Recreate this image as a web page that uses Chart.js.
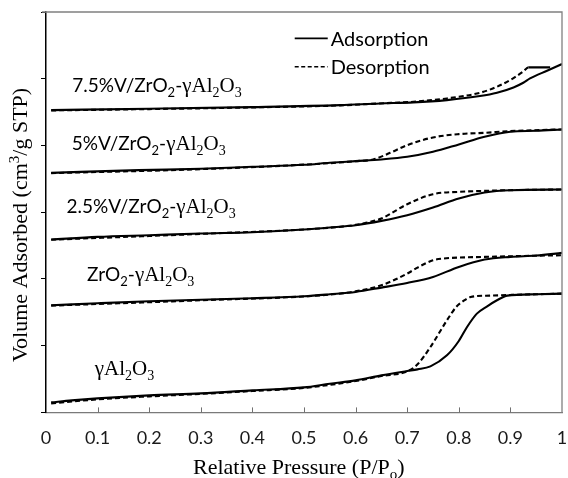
<!DOCTYPE html>
<html><head><meta charset="utf-8">
<script src="https://cdn.jsdelivr.net/npm/chart.js@4"></script>
<style>html,body{margin:0;padding:0;background:#fff}#wrap{width:568px;height:478px;position:relative}</style>
</head><body><div id="wrap"><canvas id="c"></canvas></div>
<script>
// ---- data (relative pressure P/Po, volume adsorbed, curves offset vertically as in the figure) ----
const X_TICKS = [0,0.1,0.2,0.3,0.4,0.5,0.6,0.7,0.8,0.9,1];

const P_AL_ADS = [0.01,0.05,0.1,0.2,0.3,0.4,0.5,0.55,0.6,0.65,0.7,0.72,0.745,0.777,0.8,0.816,0.835,0.855,0.874,0.894,0.95,1.0];
const V_AL_ADS = [15,18,21,25.5,28.5,33,37.5,43,48,55.5,62,64.5,69,85.5,107,128,148,159,168,175,177,178];
const P_AL_DES = [0.01,0.1,0.2,0.3,0.4,0.5,0.6,0.65,0.7,0.72,0.745,0.777,0.795,0.809,0.823,0.86,0.9,1.0];
const V_AL_DES = [13.5,19.5,24,27.75,32,36.75,47,54.5,61.5,72,98,138,158,167,173,175,176,178];

const P_ZR_ADS = [0.01,0.1,0.2,0.3,0.4,0.5,0.55,0.6,0.65,0.7,0.75,0.8,0.85,0.9,0.95,1.0];
const V_ZR_ADS = [160.5,163.5,166.5,168.75,171,174,177,180.5,187,194,203,218,229,233,235,239];
const P_ZR_DES = [0.01,0.3,0.55,0.6,0.65,0.7,0.72,0.75,0.77,0.8,0.85,0.9,1.0];
const V_ZR_DES = [160,168,176.5,181.5,190.5,208,217,228,230.5,232,233,234,235.5];

const P_V25_ADS = [0.01,0.1,0.2,0.3,0.4,0.5,0.55,0.6,0.65,0.7,0.75,0.8,0.85,0.9,1.0];
const V_V25_ADS = [259,263,265.5,268,270,274,277,280.5,287,295.5,307,320.5,329.5,333,334];
const P_V25_DES = [0.01,0.3,0.55,0.6,0.62,0.65,0.7,0.75,0.8,0.85,0.9,1.0];
const V_V25_DES = [258.75,267.5,276.75,281,284,290.5,312,327,330.5,332,333,334];

const P_V5_ADS = [0.01,0.18,0.3,0.4,0.5,0.55,0.6,0.65,0.7,0.75,0.8,0.85,0.9,0.95,1.0];
const V_V5_ADS = [359,363,365,368,371,374,376.5,379,383,390.5,401.5,413,420.5,422,424];
const P_V5_DES = [0.01,0.3,0.55,0.6,0.634,0.667,0.7,0.75,0.8,0.85,0.9,1.0];
const V_V5_DES = [358.5,364.5,373.5,376.5,379,389,400.5,412,417,419,421.5,424];

const P_V75_ADS = [0.01,0.2,0.4,0.57,0.647,0.712,0.777,0.841,0.874,0.906,0.925,0.938,0.971,1.0];
const V_V75_ADS = [453,455,457.5,460.5,463,464.5,468,474,479,487,494,500.5,512,522];
const P_V75_DES = [0.01,0.2,0.4,0.57,0.647,0.712,0.777,0.841,0.874,0.906,0.925,0.935,0.977];
const V_V75_DES = [452.5,454.5,457,460,463,465.5,470.5,479,488,501,511,517,517];

const SERIES_NAMES = ['Adsorption','Desorption'];

// sample labels: text runs (sans / serif / subscript)
const SAMPLE_LABELS = [
  {runs:[['7.5%V/ZrO','s'],['2','ss'],['-','s'],['γAl','r'],['2','rs'],['O','r'],['3','rs']], at:[0.051,480]},
  {runs:[['5%V/ZrO','s'],['2','ss'],['-','s'],['γAl','r'],['2','rs'],['O','r'],['3','rs']], at:[0.050,393]},
  {runs:[['2.5%V/ZrO','s'],['2','ss'],['-','s'],['γAl','r'],['2','rs'],['O','r'],['3','rs']], at:[0.0395,298.5]},
  {runs:[['ZrO','s'],['2','ss'],['-','s'],['γAl','r'],['2','rs'],['O','r'],['3','rs']], at:[0.0795,196.5]},
  {runs:[['γAl','r'],['2','rs'],['O','r'],['3','rs']], at:[0.0945,55.5]}
];

const SANS = 'Lato, "Open Sans", sans-serif';
const SERIF = '"Liberation Serif", "DejaVu Serif", serif';
const RUN_STYLE = {
  s:{font:'19px '+SANS, dy:0},
  ss:{font:'13px '+SANS, dy:5},
  r:{font:'21px '+SERIF, dy:0},
  rs:{font:'14px '+SERIF, dy:5},
  r2:{font:'22px '+SERIF, dy:0},
  r2s:{font:'15px '+SERIF, dy:5},
  ry:{font:'22px '+SERIF, dy:0},
  rys:{font:'15px '+SERIF, dy:-8}
};

function pts(xs, ys){ return xs.map((v,i)=>({x:v, y:ys[i]})); }

const curves = [
  [P_AL_ADS,V_AL_ADS,false],[P_AL_DES,V_AL_DES,true],
  [P_ZR_ADS,V_ZR_ADS,false],[P_ZR_DES,V_ZR_DES,true],
  [P_V25_ADS,V_V25_ADS,false],[P_V25_DES,V_V25_DES,true],
  [P_V5_ADS,V_V5_ADS,false],[P_V5_DES,V_V5_DES,true],
  [P_V75_ADS,V_V75_ADS,false],[P_V75_DES,V_V75_DES,true]
];

const datasets = curves.map((c,i)=>({
  label: c[2] ? SERIES_NAMES[1] : SERIES_NAMES[0],
  data: pts(c[0], c[1]),
  borderColor:'#000',
  borderWidth:2.1,
  borderDash: c[2] ? [5,3] : [],
  pointRadius:0,
  fill:false,
  cubicInterpolationMode:'monotone',
  segment: (i===9) ? {borderDash: ctx => ctx.p0.parsed.x >= 0.934 ? [] : undefined} : undefined
}));

function drawRuns(ctx, runs, x, y){
  let cx = x;
  for (const [t, k] of runs){
    const st = RUN_STYLE[k];
    ctx.font = st.font;
    ctx.fillText(t, cx, y + st.dy);
    cx += ctx.measureText(t).width;
  }
}

const overlay = {
  id:'overlay',
  afterDraw(chart){
    const {ctx, chartArea:a, scales:{x, y}} = chart;
    ctx.save();
    // frame top/right
    ctx.strokeStyle = '#808080'; ctx.lineWidth = 1.3;
    ctx.beginPath();
    ctx.moveTo(a.left - 4, a.top); ctx.lineTo(a.right, a.top); ctx.lineTo(a.right, a.bottom);
    ctx.stroke();
    // inward x tick marks
    ctx.strokeStyle = '#707070'; ctx.lineWidth = 1;
    ctx.beginPath();
    for (const t of x.ticks){
      if (t.value <= 0 || t.value >= 1) continue;
      const px = Math.round(x.getPixelForValue(t.value)) + 0.5;
      ctx.moveTo(px, a.bottom); ctx.lineTo(px, a.bottom - 5);
    }
    ctx.stroke();
    // sample labels
    ctx.fillStyle = '#000'; ctx.textBaseline = 'alphabetic'; ctx.textAlign = 'left';
    for (const L of SAMPLE_LABELS){
      drawRuns(ctx, L.runs, x.getPixelForValue(L.at[0]), y.getPixelForValue(L.at[1]));
    }
    // legend
    const lx0 = x.getPixelForValue(0.482), lx1 = x.getPixelForValue(0.546);
    const ly = [y.getPixelForValue(560.5), y.getPixelForValue(518)];
    ctx.strokeStyle = '#000'; ctx.lineWidth = 1.6;
    ctx.setLineDash([]);
    ctx.beginPath(); ctx.moveTo(lx0, ly[0]); ctx.lineTo(lx1, ly[0]); ctx.stroke();
    ctx.setLineDash([4,2.5]);
    ctx.beginPath(); ctx.moveTo(lx0, ly[1]); ctx.lineTo(lx1, ly[1]); ctx.stroke();
    ctx.setLineDash([]);
    ctx.font = '20px ' + SANS; ctx.textBaseline = 'middle';
    ctx.fillText(SERIES_NAMES[0], lx1 + 3, ly[0] + 1);
    ctx.fillText(SERIES_NAMES[1], lx1 + 3, ly[1] + 1);
    ctx.restore();
  }
};

const titles = {
  id:'titles',
  afterDraw(chart){
    const {ctx} = chart;
    ctx.save();
    ctx.fillStyle = '#000'; ctx.textAlign = 'left'; ctx.textBaseline = 'alphabetic';
    drawRuns(ctx, [['Relative Pressure (P/P','r2'],['o','r2s'],[')','r2']], 193, 474);
    ctx.translate(27, 362); ctx.rotate(-Math.PI/2);
    drawRuns(ctx, [['Volume Adsorbed (cm','ry'],['3','rys'],['/g STP)','ry']], 0, 0);
    ctx.restore();
  }
};

new Chart(document.getElementById('c'), {
  type:'line',
  data:{datasets},
  options:{
    responsive:true, maintainAspectRatio:false, animation:false, devicePixelRatio:1,
    layout:{padding:{left:41, right:6, top:12, bottom:29}},
    plugins:{legend:{display:false}, tooltip:{enabled:false}},
    scales:{
      x:{type:'linear', min:0, max:1,
         afterBuildTicks: s => { s.ticks = X_TICKS.map(v=>({value:v})); },
         ticks:{color:'#1a1a1a', font:{family:SANS, size:18}, padding:0, maxRotation:0,
                callback: v => String(+v.toFixed(1))},
         grid:{display:true, drawOnChartArea:false, drawTicks:true, tickLength:15, tickColor:'rgba(0,0,0,0)'},
         border:{display:true, color:'#7a7a7a', width:1.3}},
      y:{type:'linear', min:0, max:600,
         ticks:{display:false, stepSize:100},
         grid:{display:true, drawOnChartArea:false, drawTicks:true, tickLength:5, color:'#000'},
         border:{display:true, color:'#000', width:1.5}}
    }
  },
  plugins:[overlay, titles]
});
</script></body></html>
